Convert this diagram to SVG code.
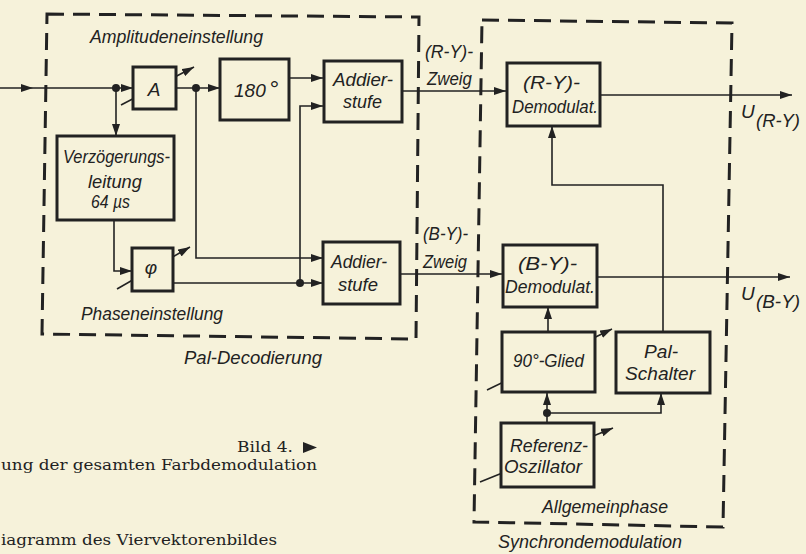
<svg xmlns="http://www.w3.org/2000/svg" width="806" height="554" viewBox="0 0 806 554">
<defs>
<marker id="ah" viewBox="0 0 12 8" refX="12" refY="4" markerWidth="12" markerHeight="8" markerUnits="userSpaceOnUse" orient="auto">
<path d="M0,0 L12,4 L0,8 Z" fill="#222"/>
</marker>
</defs>
<style>
.bg{fill:#f6f2da}
.blk{fill:#f6f2da;stroke:#222;stroke-width:3}
.grp{fill:none;stroke:#222;stroke-width:3;stroke-dasharray:17 9}
.ar{fill:none;stroke:#222;stroke-width:1.6;marker-end:url(#ah)}
.dot{fill:#222}
.t{font-family:"Liberation Sans",Arial,sans-serif;font-style:italic;font-size:19px;fill:#222}
.s{font-family:"DejaVu Serif","Liberation Serif",serif;font-size:15.5px;fill:#222}
</style>
<rect class="bg" x="0" y="0" width="806" height="554"/>

<g id="pal-decodierung">
<path class="grp" d="M47,14 L419,17 L416,339 L42,334 Z"/>
<text class="t" x="90" y="43" textLength="173" lengthAdjust="spacingAndGlyphs">Amplitudeneinstellung</text>
<text class="t" x="81" y="320" textLength="142" lengthAdjust="spacingAndGlyphs">Phaseneinstellung</text>
<text class="t" x="184" y="364" textLength="138" lengthAdjust="spacingAndGlyphs">Pal-Decodierung</text>
</g>

<g id="synchrondemodulation">
<path class="grp" d="M482,20 L732,23 L723,527 L474,522 Z"/>
<text class="t" x="542" y="513" textLength="126" lengthAdjust="spacingAndGlyphs">Allgemeinphase</text>
<text class="t" x="498" y="548" textLength="184" lengthAdjust="spacingAndGlyphs">Synchrondemodulation</text>
</g>

<g id="connectors">
<path class="ar" d="M0,88 H33"/>
<path class="ar" d="M33,88 H133"/>
<path class="ar" d="M116,88 V136"/>
<path class="ar" d="M176,88 H220"/>
<path class="ar" d="M289,78 H323"/>
<path class="ar" d="M196,88 V258 H323"/>
<path class="ar" d="M300,283 V106 H323"/>
<path class="ar" d="M114,220 V271 H132"/>
<path class="ar" d="M173,283 H323"/>
<path class="ar" d="M402,91 H506"/>
<path class="ar" d="M400,274 H502"/>
<path class="ar" d="M600,95 H792"/>
<path class="ar" d="M597,277 H790"/>
<path class="ar" d="M663,332 V185 H552 V126"/>
<path class="ar" d="M548,332 V307"/>
<path class="ar" d="M547,423 V393"/>
<path class="ar" d="M547,413 H661 V393"/>
<path class="ar" d="M121,105 L194,67"/>
<path class="ar" d="M117,289 L190,247"/>
<path class="ar" d="M487,390 L612,329"/>
<path class="ar" d="M480,482 L613,428"/>
<circle class="dot" cx="116" cy="88" r="4"/>
<circle class="dot" cx="196" cy="88" r="4"/>
<circle class="dot" cx="300" cy="283" r="4"/>
<circle class="dot" cx="547" cy="413" r="4"/>
</g>

<g id="amplitude">
<rect class="blk" x="133" y="67" width="43" height="42"/>
<text class="t" x="154" y="96" text-anchor="middle" font-size="20">A</text>
</g>

<g id="phase180">
<rect class="blk" x="220" y="59" width="69" height="61"/>
<text class="t" x="234" y="97" font-size="20">180<tspan dx="3" font-size="24">°</tspan></text>
</g>

<g id="addierstufe-r">
<rect class="blk" x="324" y="61" width="78" height="61"/>
<text class="t" x="333" y="86" textLength="60" lengthAdjust="spacingAndGlyphs">Addier-</text>
<text class="t" x="343" y="108" textLength="39" lengthAdjust="spacingAndGlyphs">stufe</text>
</g>

<g id="verzoegerung">
<rect class="blk" x="57" y="136" width="117" height="84"/>
<text class="t" x="63" y="163" textLength="107" lengthAdjust="spacingAndGlyphs">Verzögerungs-</text>
<text class="t" x="88" y="188" textLength="54" lengthAdjust="spacingAndGlyphs">leitung</text>
<text class="t" x="91" y="208" textLength="39" lengthAdjust="spacingAndGlyphs">64 µs</text>
</g>

<g id="phi">
<rect class="blk" x="132" y="248" width="41" height="43"/>
<text class="t" x="151" y="274" text-anchor="middle" font-size="21">φ</text>
</g>

<g id="addierstufe-b">
<rect class="blk" x="323" y="242" width="77" height="62"/>
<text class="t" x="331" y="268" textLength="56" lengthAdjust="spacingAndGlyphs">Addier-</text>
<text class="t" x="338" y="291" textLength="40" lengthAdjust="spacingAndGlyphs">stufe</text>
</g>

<g id="zweig-labels">
<text class="t" x="425" y="58" textLength="48" lengthAdjust="spacingAndGlyphs">(R-Y)-</text>
<text class="t" x="427" y="85" textLength="45" lengthAdjust="spacingAndGlyphs">Zweig</text>
<text class="t" x="423" y="240" textLength="45" lengthAdjust="spacingAndGlyphs">(B-Y)-</text>
<text class="t" x="423" y="268" textLength="44" lengthAdjust="spacingAndGlyphs">Zweig</text>
</g>

<g id="demod-r">
<rect class="blk" x="507" y="63" width="93" height="63"/>
<text class="t" x="523" y="89" textLength="57" lengthAdjust="spacingAndGlyphs">(R-Y)-</text>
<text class="t" x="512" y="113" textLength="86" lengthAdjust="spacingAndGlyphs">Demodulat.</text>
</g>

<g id="demod-b">
<rect class="blk" x="503" y="245" width="94" height="62"/>
<text class="t" x="518" y="270" textLength="59" lengthAdjust="spacingAndGlyphs">(B-Y)-</text>
<text class="t" x="505" y="293" textLength="90" lengthAdjust="spacingAndGlyphs">Demodulat.</text>
</g>

<g id="outputs">
<text class="t" x="741" y="118" font-size="17">U</text>
<text class="t" x="756" y="127" textLength="44" lengthAdjust="spacingAndGlyphs">(R-Y)</text>
<text class="t" x="741" y="300" font-size="17">U</text>
<text class="t" x="756" y="308" textLength="44" lengthAdjust="spacingAndGlyphs">(B-Y)</text>
</g>

<g id="glied90">
<rect class="blk" x="502" y="332" width="93" height="60"/>
<text class="t" x="513" y="367" textLength="71" lengthAdjust="spacingAndGlyphs">90°-Glied</text>
</g>

<g id="pal-schalter">
<rect class="blk" x="616" y="332" width="94" height="61"/>
<text class="t" x="644" y="358" textLength="34" lengthAdjust="spacingAndGlyphs">Pal-</text>
<text class="t" x="625" y="380" textLength="70" lengthAdjust="spacingAndGlyphs">Schalter</text>
</g>

<g id="referenz">
<rect class="blk" x="501" y="423" width="93" height="64"/>
<text class="t" x="510" y="452" textLength="78" lengthAdjust="spacingAndGlyphs">Referenz-</text>
<text class="t" x="504" y="473" textLength="78" lengthAdjust="spacingAndGlyphs">Oszillator</text>
</g>

<g id="caption">
<text class="s" x="237" y="452" textLength="56" lengthAdjust="spacingAndGlyphs">Bild 4.</text>
<polygon points="303,442 317,447.5 303,453" fill="#222"/>
<text class="s" x="1" y="470" textLength="316" lengthAdjust="spacingAndGlyphs">ung der gesamten Farbdemodulation</text>
<text class="s" x="1" y="545" textLength="276" lengthAdjust="spacingAndGlyphs">iagramm des Viervektorenbildes</text>
</g>
</svg>
